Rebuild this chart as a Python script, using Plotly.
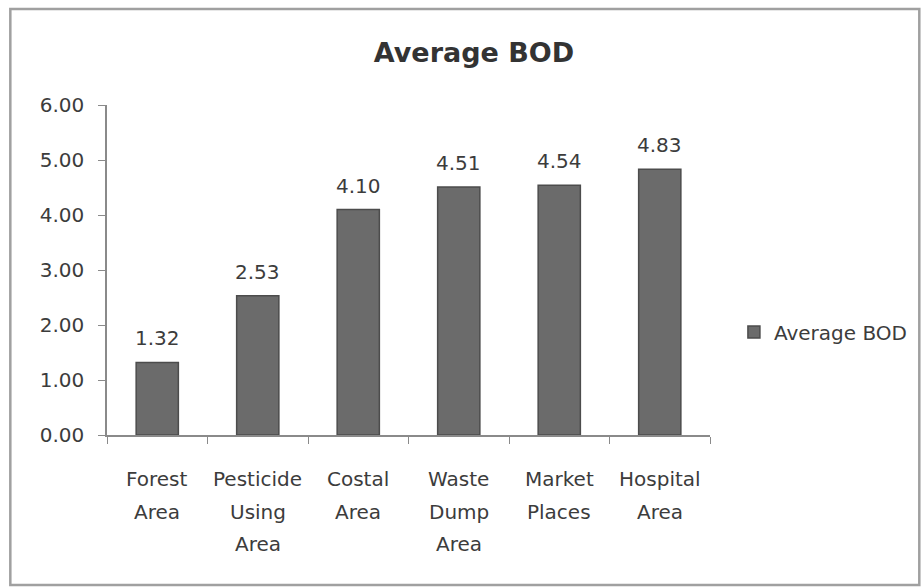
import plotly.graph_objects as go

# Average BOD by sampling location
categories = ["Forest Area", "Pesticide Using Area", "Costal Area",
              "Waste Dump Area", "Market Places", "Hospital Area"]
category_lines = [["Forest", "Area"], ["Pesticide", "Using", "Area"], ["Costal", "Area"],
                  ["Waste", "Dump", "Area"], ["Market", "Places"], ["Hospital", "Area"]]
bod_values = [1.32, 2.53, 4.10, 4.51, 4.54, 4.83]
series_name = "Average BOD"
y_ticks = [0, 1, 2, 3, 4, 5, 6]

FONT = "DejaVu Sans"
TEXT = "#3c3c3c"
BAR = "#6b6b6b"
BAR_EDGE = "#4c4c4c"
AXIS = "#8a8a8a"

W, H = 924, 587
L, R, T, B = 107, 212, 105, 152
pw, ph = W - L - R, H - T - B


def px_x(x):
    return (x - L) / pw


def px_y(y):
    return (H - B - y) / ph


fig = go.Figure()
fig.add_trace(go.Bar(
    x=categories, y=bod_values, name=series_name, width=0.42,
    marker=dict(color=BAR, line=dict(color=BAR_EDGE, width=1.5)),
    showlegend=True,
))

annotations = []
# value labels above each bar
for c, v in zip(categories, bod_values):
    annotations.append(dict(
        x=c, y=v, xref="x", yref="y", text=f"{v:.2f}", showarrow=False,
        yanchor="middle", yshift=24, font=dict(family=FONT, size=20, color=TEXT),
    ))
# multi-line category labels under the axis
for c, lines in zip(categories, category_lines):
    for i, line in enumerate(lines):
        annotations.append(dict(
            x=c, y=px_y(479 + 32.5 * i), xref="x", yref="paper", text=line,
            showarrow=False, yanchor="middle",
            font=dict(family=FONT, size=20, color=TEXT),
        ))

fig.update_layout(
    width=W, height=H,
    margin=dict(l=L, r=R, t=T, b=B),
    paper_bgcolor="white", plot_bgcolor="white",
    title=dict(text="<b>Average BOD</b>", xref="container", x=474 / W,
               xanchor="center", yref="container", y=1 - 53 / H, yanchor="middle",
               font=dict(family=FONT, size=27, color="#333333")),
    xaxis=dict(
        showticklabels=False, tickson="boundaries", ticks="outside", ticklen=7,
        tickcolor=AXIS, showline=True, linecolor=AXIS, linewidth=1.5,
        showgrid=False, zeroline=False,
    ),
    yaxis=dict(
        range=[0, 6], tickvals=y_ticks, tickformat=".2f", ticks="outside",
        ticklen=7, tickcolor=AXIS, showline=True, linecolor=AXIS, linewidth=1.5,
        showgrid=False, zeroline=False, ticklabelstandoff=10,
        tickfont=dict(family=FONT, size=20, color=TEXT),
    ),
    legend=dict(
        x=px_x(736), xanchor="left", y=px_y(332), yanchor="middle",
        font=dict(family=FONT, size=20, color=TEXT), bgcolor="rgba(0,0,0,0)",
    ),
    annotations=annotations,
    shapes=[dict(
        type="rect", xref="paper", yref="paper",
        x0=px_x(10), x1=px_x(922), y0=px_y(585), y1=px_y(9),
        line=dict(color="#a0a0a0", width=2.5), layer="below",
    )],
)

fig.write_html("out.html")
